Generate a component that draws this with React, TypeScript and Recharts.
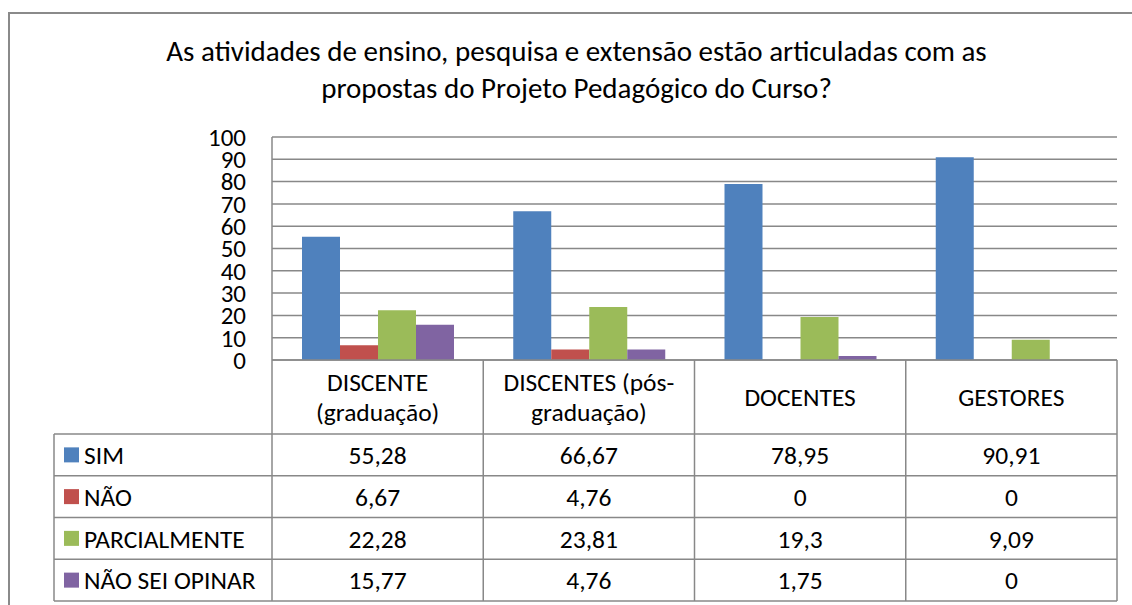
import React from 'react';
import { BarChart, Bar, XAxis, YAxis, CartesianGrid } from 'recharts';

const titleLines = [
  'As atividades de ensino, pesquisa e extensão estão articuladas com as',
  'propostas do Projeto Pedagógico do Curso?',
];
const categories = ['DISCENTE (graduação)', 'DISCENTES (pós-graduação)', 'DOCENTES', 'GESTORES'];
const categoryLines = [['DISCENTE', '(graduação)'], ['DISCENTES (pós-', 'graduação)'], ['DOCENTES'], ['GESTORES']];
const seriesNames = ['SIM', 'NÃO', 'PARCIALMENTE', 'NÃO SEI OPINAR'];
const sim = [55.28, 66.67, 78.95, 90.91];
const nao = [6.67, 4.76, 0, 0];
const parcialmente = [22.28, 23.81, 19.3, 9.09];
const naoSei = [15.77, 4.76, 1.75, 0];
const yTicks = [0, 10, 20, 30, 40, 50, 60, 70, 80, 90, 100];

const seriesValues = [sim, nao, parcialmente, naoSei];
const seriesKeys = ['sim', 'nao', 'parcialmente', 'naoSei'];
const colors = ['#4F81BD', '#C0504D', '#9BBB59', '#8064A2'];

const data = categories.map((c, i) => {
  const row: any = { name: c };
  seriesKeys.forEach((k, s) => {
    row[k] = seriesValues[s][i];
  });
  return row;
});

const FONT = 'Carlito, Lato, sans-serif';
const GRID = '#888888';
const HEADER_H = 74;
const ROW_H = 41.75;
const LEGEND_LEFT = 54;
const TABLE_FS = 25.5;

const fmt = (v: number) => String(v).replace('.', ',');

const TableTick = (props: any) => {
  const { x, y, payload, index, width } = props;
  const n = categories.length;
  const colW = typeof width === 'number' && width > 100 ? width / n : (payload.offset || 105.6) * 2;
  const colLeft = x - colW / 2;
  const colRight = x + colW / 2;
  const top = y;
  const bottom = top + HEADER_H + ROW_H * seriesNames.length;
  const plotLeft = x - colW / 2 - index * colW;
  const plotRight = plotLeft + n * colW;
  const lines = categoryLines[index] || [String(payload.value)];
  const headerCenter = top + HEADER_H / 2;
  const lineGap = 30;
  return (
    <g>
      <line x1={colRight} y1={top} x2={colRight} y2={bottom} stroke={GRID} strokeWidth={1.5} />
      {index === 0 && (
        <g>
          <line x1={colLeft} y1={top} x2={colLeft} y2={bottom} stroke={GRID} strokeWidth={1.5} />
          <line x1={LEGEND_LEFT} y1={top + HEADER_H} x2={LEGEND_LEFT} y2={bottom} stroke={GRID} strokeWidth={1.5} />
          {seriesNames.map((_, r) => (
            <line
              key={'h' + r}
              x1={LEGEND_LEFT}
              y1={top + HEADER_H + r * ROW_H}
              x2={plotRight}
              y2={top + HEADER_H + r * ROW_H}
              stroke={GRID}
              strokeWidth={1.5}
            />
          ))}
          <line x1={LEGEND_LEFT} y1={bottom} x2={plotRight} y2={bottom} stroke={GRID} strokeWidth={1.5} />
          {seriesNames.map((name, r) => {
            const cy = top + HEADER_H + r * ROW_H + ROW_H / 2;
            return (
              <g key={'l' + r}>
                <rect x={LEGEND_LEFT + 10} y={cy - 7.5} width={15} height={15} fill={colors[r]} />
                <text x={LEGEND_LEFT + 30} y={cy} dy="0.36em" fontSize={TABLE_FS} fontFamily={FONT} fill="#000">
                  {name}
                </text>
              </g>
            );
          })}
        </g>
      )}
      {lines.map((t, li) => (
        <text
          key={'c' + li}
          x={x}
          y={headerCenter + (li - (lines.length - 1) / 2) * lineGap}
          dy="0.36em"
          textAnchor="middle"
          fontSize={TABLE_FS}
          fontFamily={FONT}
          fill="#000"
        >
          {t}
        </text>
      ))}
      {seriesValues.map((vals, r) => (
        <text
          key={'v' + r}
          x={x}
          y={top + HEADER_H + r * ROW_H + ROW_H / 2}
          dy="0.36em"
          textAnchor="middle"
          fontSize={TABLE_FS}
          fontFamily={FONT}
          fill="#000"
        >
          {fmt(vals[index])}
        </text>
      ))}
    </g>
  );
};

export default function App() {
  return (
    <div style={{ position: 'absolute', left: 0, top: 0, width: 1132, height: 605, background: '#fff', overflow: 'hidden' }}>
      <div
        style={{
          position: 'absolute',
          left: 8,
          top: 12,
          width: 1140,
          height: 620,
          border: '2px solid #8a8a8a',
          boxSizing: 'border-box',
        }}
      />
      <div
        style={{
          position: 'absolute',
          left: 0,
          top: 33,
          width: 1153,
          textAlign: 'center',
          fontFamily: FONT,
          fontSize: 29,
          lineHeight: '37px',
          color: '#000',
        }}
      >
        {titleLines.map((t, i) => (
          <div key={i}>{t}</div>
        ))}
      </div>
      <div style={{ position: 'absolute', left: 0, top: 0 }}>
        <BarChart
          width={1132}
          height={605}
          data={data}
          margin={{ top: 137, right: 15, left: 0, bottom: 0 }}
          barGap={0}
          barSize={38}
        >
          <CartesianGrid horizontal={true} vertical={false} stroke={GRID} strokeWidth={1.5} strokeDasharray="" />
          <XAxis
            dataKey="name"
            height={245}
            interval={0}
            tickSize={0}
            tickMargin={0}
            axisLine={{ stroke: GRID, strokeWidth: 1.5 }}
            tickLine={false}
            tick={<TableTick />}
          />
          <YAxis
            width={272}
            domain={[0, 100]}
            ticks={yTicks}
            interval={0}
            tickSize={0}
            tickMargin={26}
            tickLine={false}
            axisLine={{ stroke: GRID, strokeWidth: 1.5 }}
            tick={{ fill: '#000', fontSize: 25, fontFamily: FONT }}
          />
          {seriesKeys.map((k, s) => (
            <Bar key={k} dataKey={k} name={seriesNames[s]} fill={colors[s]} isAnimationActive={false} />
          ))}
        </BarChart>
      </div>
    </div>
  );
}
